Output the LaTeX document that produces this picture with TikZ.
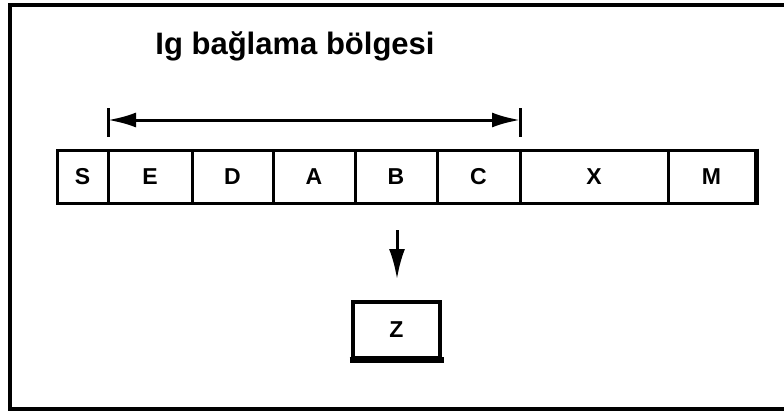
\documentclass[tikz,border=0pt]{standalone}
\usepackage{fontspec}
\setmainfont{Liberation Sans}
\usetikzlibrary{arrows.meta}
\begin{document}
\begin{tikzpicture}[x=1pt,y=-1pt,
  cell/.style={draw=black,line width=3pt,minimum height=53pt,inner sep=0pt,
    font=\fontsize{23}{27}\selectfont\bfseries},
  zbox/.style={draw=black,line width=3.5pt,minimum width=87pt,minimum height=56pt,inner sep=0pt,
    font=\fontsize{23}{27}\selectfont\bfseries},
  frame/.style={line width=4.5pt,draw=black},
  span/.style={line width=3pt,{Latex[length=28pt,width=15pt]}-{Latex[length=28pt,width=15pt]}},
  tick/.style={line width=3pt},
  down/.style={line width=3pt,-{Latex[length=30pt,width=16pt]}},
  title/.style={font=\fontsize{31}{36}\selectfont\bfseries,inner sep=0pt}]
\useasboundingbox (0,0) rectangle (784,412);
\draw[frame] (786,5) -| (10,409) -- (786,409);
\node[title] (t) at (295,46) {Ig bağlama bölgesi};
\node[cell,minimum width=51pt] (s) at (82.5,176.5) {S};
\node[cell,minimum width=84pt] (e) at (150,176.5) {E};
\node[cell,minimum width=81pt] (d) at (232.5,176.5) {D};
\node[cell,minimum width=82pt] (a) at (314,176.5) {A};
\node[cell,minimum width=82pt] (b) at (396,176.5) {B};
\node[cell,minimum width=83pt] (c) at (478.5,176.5) {C};
\node[cell,minimum width=148pt] (x) at (594,176.5) {X};
\node[cell,minimum width=87pt] (m) at (711.5,176.5) {M};
\draw[line width=5pt] (m.north east) -- (m.south east);
\coordinate (lt) at (108,108);
\coordinate (lb) at (108,137);
\coordinate (rt) at (520,108);
\coordinate (rb) at (520,137);
\coordinate (la) at (108,120);
\coordinate (ra) at (520,120);
\draw[tick] (lt) -- (lb);
\draw[tick] (rt) -- (rb);
\draw[span] (la) -- (ra);
\node[zbox] (z) at (396.5,330) {Z};
\draw[line width=6pt] ([xshift=-1.75pt]z.south west) -- ([xshift=1.75pt]z.south east);
\coordinate (ds) at (397,230);
\coordinate (de) at (397,279);
\draw[down] (ds) -- (de);
\end{tikzpicture}
\end{document}
